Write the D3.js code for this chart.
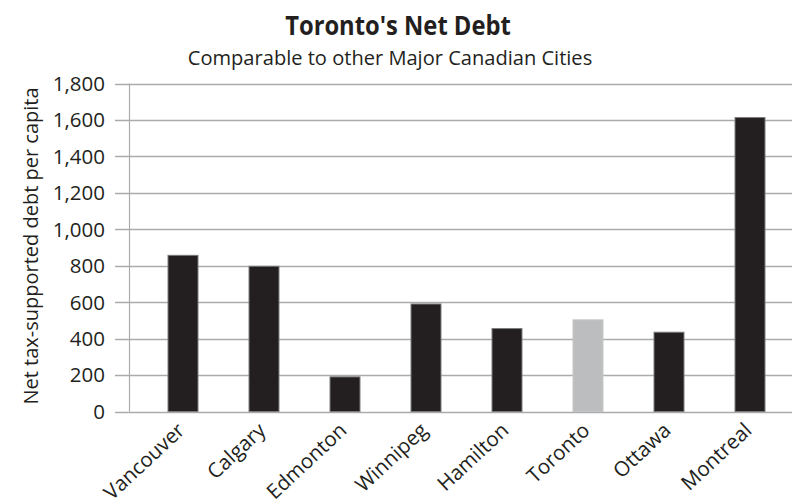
<!DOCTYPE html>
<html>
<head>
<meta charset="utf-8">
<script src="https://cdn.jsdelivr.net/npm/d3@7"></script>
<style>
  html, body { margin: 0; padding: 0; background: #fff; }
  svg { display: block; }
  text { font-family: "Open Sans", "Noto Sans", sans-serif; fill: #231f20; }
</style>
</head>
<body>
<svg id="chart" width="792" height="504"></svg>
<script>
// City names along the x axis
const cities = ["Vancouver", "Calgary", "Edmonton", "Winnipeg", "Hamilton", "Toronto", "Ottawa", "Montreal"];
// Net tax-supported debt per capita ($)
const debtPerCapita = [857, 797, 190, 590, 455, 503, 435, 1613];
// Y axis ticks
const yTicks = [0, 200, 400, 600, 800, 1000, 1200, 1400, 1600, 1800];
const highlightCity = "Toronto";

const svg = d3.select("#chart");

const plot = { left: 142.5, right: 790.5, top: 83.5, bottom: 411.5 };

const x = d3.scaleBand()
  .domain(cities)
  .range([plot.left, plot.right])
  .paddingInner(0.63)
  .paddingOuter(0.315);

const y = d3.scaleLinear()
  .domain([0, 1800])
  .range([plot.bottom, plot.top]);

// Horizontal gridlines with short outer ticks
const grid = svg.append("g");
grid.selectAll("line")
  .data(yTicks)
  .join("line")
  .attr("x1", 115)
  .attr("x2", 792)
  .attr("y1", d => Math.round(y(d)) + 0.5)
  .attr("y2", d => Math.round(y(d)) + 0.5)
  .attr("stroke", "#ababab")
  .attr("stroke-width", 1.4);

// Vertical axis line
svg.append("line")
  .attr("x1", 129.5).attr("x2", 129.5)
  .attr("y1", y(1800)).attr("y2", y(0))
  .attr("stroke", "#ababab")
  .attr("stroke-width", 1.2);

// Y tick labels
svg.append("g").selectAll("text")
  .data(yTicks)
  .join("text")
  .attr("x", 105)
  .attr("y", d => y(d))
  .attr("dy", "0.36em")
  .attr("text-anchor", "end")
  .attr("font-size", 20.5)
  .text(d => d3.format(",")(d));

// Bars
svg.append("g").selectAll("rect")
  .data(cities.map((c, i) => ({ city: c, value: debtPerCapita[i] })))
  .join("rect")
  .attr("x", d => x(d.city))
  .attr("width", x.bandwidth())
  .attr("y", d => y(d.value))
  .attr("height", d => y(0) - y(d.value))
  .attr("fill", d => d.city === highlightCity ? "#bcbdbf" : "#231f20")
  .attr("stroke", d => d.city === highlightCity ? "#c6c7c8" : "#7a7a7a")
  .attr("stroke-width", 1);

// X category labels, rotated
svg.append("g").selectAll("text")
  .data(cities)
  .join("text")
  .attr("transform", d => `translate(${x(d) + x.bandwidth() / 2 + 3},${432}) rotate(-43)`)
  .attr("text-anchor", "end")
  .attr("font-size", 20.5)
  .text(d => d);

// Y axis title
svg.append("text")
  .attr("transform", `translate(38,${246}) rotate(-90)`)
  .attr("text-anchor", "middle")
  .attr("font-size", 20)
  .text("Net tax-supported debt per capita");

// Titles
svg.append("text")
  .attr("transform", "translate(398,35) scale(0.88,1)")
  .attr("text-anchor", "middle")
  .attr("font-size", 27)
  .attr("font-weight", "bold")
  .text("Toronto's Net Debt");

svg.append("text")
  .attr("transform", "translate(390,65) scale(1.03,1)")
  .attr("text-anchor", "middle")
  .attr("font-size", 19.5)
  .text("Comparable to other Major Canadian Cities");
</script>
</body>
</html>
